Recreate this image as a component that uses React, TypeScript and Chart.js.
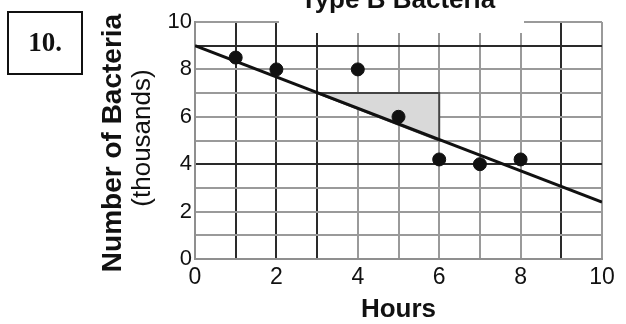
import React, { useEffect, useRef } from "react";
import { Chart, registerables } from "chart.js";

Chart.register(...registerables);

// ---- data ----
const hours = [1, 2, 4, 5, 6, 7, 8];
const bacteria = [8.5, 8, 8, 6, 4.2, 4, 4.2];
const trendX = [0, 10];
const trendY = [9, 2.4];
const slopeX = [3, 6, 6, 3];
const slopeY = [7, 7, 5, 7];
const xMin = 0, xMax = 10, yMin = 0, yMax = 10;

const chartTitle = "Type B Bacteria";
const yTitle = "Number of Bacteria";
const yUnit = "(thousands)";
const xTitle = "Hours";
const problemLabel = "10.";

const SANS = '"Liberation Sans", Arial, sans-serif';
const SERIF = '"Liberation Serif", "Times New Roman", serif';

const darkX = [1, 2, 3, 9];
const darkY = [9, 4];

const textPlugin = {
  id: "textPlugin",
  afterDraw(chart: any) {
    const ctx = chart.ctx;
    const area = chart.chartArea;
    ctx.save();
    // white backing behind the title
    ctx.fillStyle = "#fff";
    ctx.fillRect(279, 0, 245, 33);
    ctx.fillStyle = "#111";
    ctx.textAlign = "center";
    ctx.textBaseline = "alphabetic";
    ctx.font = `bold 26px ${SANS}`;
    ctx.fillText(chartTitle, 398, 8);

    // problem number box
    ctx.strokeStyle = "#111";
    ctx.lineWidth = 2;
    ctx.strokeRect(8, 12, 74, 62);
    ctx.font = `bold 27px ${SERIF}`;
    ctx.fillText(problemLabel, 45, 51);

    // x title
    ctx.font = `bold 26px ${SANS}`;
    ctx.fillText(xTitle, (area.left + area.right) / 2, 317);

    // y titles
    ctx.textBaseline = "middle";
    ctx.save();
    ctx.translate(113, 143);
    ctx.rotate(-Math.PI / 2);
    ctx.font = `bold 28px ${SANS}`;
    ctx.fillText(yTitle, 0, 0);
    ctx.restore();
    ctx.save();
    ctx.translate(143, 138);
    ctx.rotate(-Math.PI / 2);
    ctx.font = `26px ${SANS}`;
    ctx.fillText(yUnit, 0, 0);
    ctx.restore();
    ctx.restore();
  },
};

export default function App() {
  const ref = useRef<HTMLCanvasElement>(null);
  useEffect(() => {
    document.body.style.margin = "0";
    const points = hours.map((h, i) => ({ x: h, y: bacteria[i] }));
    const trend = trendX.map((x, i) => ({ x, y: trendY[i] }));
    const tri = slopeX.map((x, i) => ({ x, y: slopeY[i] }));
    const chart = new Chart(ref.current as HTMLCanvasElement, {
      type: "scatter",
      data: {
        datasets: [
          {
            data: points,
            backgroundColor: "#111",
            borderColor: "#111",
            pointRadius: 6.5,
            pointHoverRadius: 6.5,
          },
          {
            type: "line",
            data: trend,
            borderColor: "#111",
            borderWidth: 3,
            pointRadius: 0,
            fill: false,
          } as any,
          {
            type: "line",
            data: tri,
            borderColor: "#444",
            borderWidth: 2,
            backgroundColor: "#d9d9d9",
            pointRadius: 0,
            fill: "shape",
          } as any,
        ],
      },
      options: {
        animation: false,
        responsive: false,
        devicePixelRatio: 1,
        layout: { padding: { left: 0, top: 22, right: 24, bottom: 0 } },
        plugins: {
          legend: { display: false },
          title: { display: false },
          tooltip: { enabled: false },
        },
        scales: {
          x: {
            type: "linear",
            min: xMin,
            max: xMax,
            afterFit: (s: any) => {
              s.height = 65;
            },
            border: { display: true, color: "#8f8f8f", width: 2 },
            grid: {
              drawTicks: false,
              lineWidth: 2,
              color: (c: any) => (darkX.includes(c.tick?.value) ? "#2a2a2a" : "#9a9a9a"),
            },
            ticks: {
              stepSize: 1,
              autoSkip: false,
              maxRotation: 0,
              padding: 5,
              color: "#111",
              font: { family: SANS, size: 23 },
              callback: (v: any) => (Number(v) % 2 === 0 ? String(v) : ""),
            },
          },
          y: {
            type: "linear",
            min: yMin,
            max: yMax,
            afterFit: (s: any) => {
              s.width = 195;
            },
            border: { display: true, color: "#8f8f8f", width: 2 },
            grid: {
              drawTicks: false,
              lineWidth: 2,
              color: (c: any) => (darkY.includes(c.tick?.value) ? "#2a2a2a" : "#9a9a9a"),
            },
            ticks: {
              stepSize: 1,
              autoSkip: false,
              padding: 3,
              color: "#111",
              font: { family: SANS, size: 22 },
              callback: (v: any) => (Number(v) % 2 === 0 ? String(v) : ""),
            },
          },
        },
      },
      plugins: [textPlugin],
    });
    return () => chart.destroy();
  }, []);
  return (
    <div style={{ position: "fixed", left: 0, top: 0, width: 626, height: 324, background: "#fff" }}>
      <canvas ref={ref} width={626} height={324} />
    </div>
  );
}
